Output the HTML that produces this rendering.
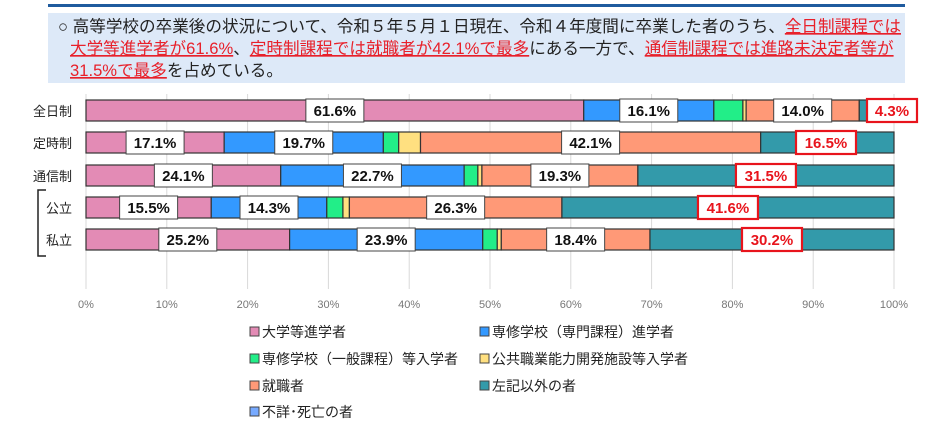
<!DOCTYPE html>
<html><head><meta charset="utf-8"><style>
body{margin:0;background:#fff;width:948px;height:429px;overflow:hidden;font-family:"Liberation Sans","Noto Sans CJK JP",sans-serif}
</style></head><body>
<svg width="948" height="429" xmlns="http://www.w3.org/2000/svg" font-family="Liberation Sans, Noto Sans CJK JP, sans-serif">
<rect x="48" y="4" width="857" height="3" fill="#1f5b9e"/>
<rect x="48" y="13" width="857" height="70" fill="#dde9f8"/>
<g font-size="16.6" fill="#222">
<text x="58" y="32">○  高等学校の卒業後の状況について、令和５年５月１日現在、令和４年度間に卒業した者のうち、<tspan fill="#e8202a" text-decoration="underline">全日制課程では</tspan></text>
<text x="70" y="54"><tspan fill="#e8202a" text-decoration="underline">大学等進学者が61.6%</tspan>、<tspan fill="#e8202a" text-decoration="underline">定時制課程では就職者が42.1%で最多</tspan>にある一方で、<tspan fill="#e8202a" text-decoration="underline">通信制課程では進路未決定者等が</tspan></text>
<text x="70" y="76"><tspan fill="#e8202a" text-decoration="underline">31.5%で最多</tspan>を占めている。</text>
</g>
<g stroke="#d9d9d9" stroke-width="1">
<line x1="166.8" y1="94" x2="166.8" y2="289"/><line x1="247.6" y1="94" x2="247.6" y2="289"/><line x1="328.4" y1="94" x2="328.4" y2="289"/><line x1="409.2" y1="94" x2="409.2" y2="289"/><line x1="490" y1="94" x2="490" y2="289"/><line x1="570.8" y1="94" x2="570.8" y2="289"/><line x1="651.6" y1="94" x2="651.6" y2="289"/><line x1="732.4" y1="94" x2="732.4" y2="289"/><line x1="813.2" y1="94" x2="813.2" y2="289"/><line x1="894" y1="94" x2="894" y2="289"/>
<line x1="86" y1="94" x2="86" y2="289"/>
</g>
<g font-size="11" fill="#777" text-anchor="middle">
<text x="86" y="308">0%</text><text x="166.8" y="308">10%</text><text x="247.6" y="308">20%</text><text x="328.4" y="308">30%</text><text x="409.2" y="308">40%</text><text x="490" y="308">50%</text><text x="570.8" y="308">60%</text><text x="651.6" y="308">70%</text><text x="732.4" y="308">80%</text><text x="813.2" y="308">90%</text><text x="894" y="308">100%</text>
</g>
<g font-size="13" fill="#222" text-anchor="end">
<text x="72" y="116">全日制</text><text x="72" y="148">定時制</text><text x="72" y="181">通信制</text><text x="72" y="213">公立</text><text x="72" y="245">私立</text>
</g>
<path d="M46 190 H38 V256 H46" fill="none" stroke="#222" stroke-width="1.5"/>
<g id="bars" stroke="#333" stroke-width="1.2"></g>
<g id="labels"></g>
<g font-size="14" fill="#222">
<rect x="250" y="327" width="9" height="9" fill="#e38bb5" stroke="#444"/><text x="262" y="337">大学等進学者</text>
<rect x="480" y="327" width="9" height="9" fill="#3399ff" stroke="#444"/><text x="492" y="337">専修学校（専門課程）進学者</text>
<rect x="250" y="354" width="9" height="9" fill="#22ee88" stroke="#444"/><text x="262" y="364">専修学校（一般課程）等入学者</text>
<rect x="480" y="354" width="9" height="9" fill="#ffe080" stroke="#444"/><text x="492" y="364">公共職業能力開発施設等入学者</text>
<rect x="250" y="381" width="9" height="9" fill="#ff9977" stroke="#444"/><text x="262" y="391">就職者</text>
<rect x="480" y="381" width="9" height="9" fill="#339aaa" stroke="#444"/><text x="492" y="391">左記以外の者</text>
<rect x="250" y="407" width="9" height="9" fill="#77aaff" stroke="#444"/><text x="262" y="417">不詳･死亡の者</text>
</g>
<script>
var cols=["#e38bb5","#3399ff","#22ee88","#ffe080","#ff9977","#339aaa"];
var rows=[[61.6,16.1,3.6,0.4,14.0,4.3],[17.1,19.7,1.9,2.7,42.1,16.5],[24.1,22.7,1.7,0.5,19.3,31.7],[15.5,14.3,2.0,0.8,26.3,41.1],[25.2,23.9,1.8,0.5,18.4,30.2]];
var ys=[100,132,165,197,229];
var labs=[[[0,"61.6%"],[1,"16.1%"],[4,"14.0%"],[-1,"4.3%",892,1]],[[0,"17.1%"],[1,"19.7%"],[4,"42.1%"],[-1,"16.5%",826,1]],[[0,"24.1%"],[1,"22.7%"],[4,"19.3%"],[5,"31.5%",0,1]],[[0,"15.5%"],[1,"14.3%"],[4,"26.3%"],[5,"41.6%",0,1]],[[0,"25.2%"],[1,"23.9%"],[4,"18.4%"],[5,"30.2%",0,1]]];
var ns="http://www.w3.org/2000/svg",B=document.getElementById("bars"),L=document.getElementById("labels");
function el(t,a,p){var e=document.createElementNS(ns,t);for(var k in a)e.setAttribute(k,a[k]);p.appendChild(e);return e;}
rows.forEach(function(r,i){var x=86,cs=[];r.forEach(function(v,j){var w=v*8.08;if(x+w>894)w=894-x;el("rect",{x:x,y:ys[i],width:w,height:21,fill:cols[j]},B);cs.push(x+w/2);x+=w;});
labs[i].forEach(function(l){var cx=l[2]||cs[l[0]],red=l[3];var w=red?(l[1].length>4?60:50):58;
el("rect",{x:cx-w/2,y:ys[i]-1,width:w,height:23,fill:"#fff",stroke:red?"#e8141c":"#444","stroke-width":red?2.2:1},L);
var t=el("text",{x:cx,y:ys[i]+16,"text-anchor":"middle","font-size":"15","font-weight":"bold",fill:red?"#e8141c":"#111"},L);t.textContent=l[1];});});
</script>
</svg>
</body></html>
